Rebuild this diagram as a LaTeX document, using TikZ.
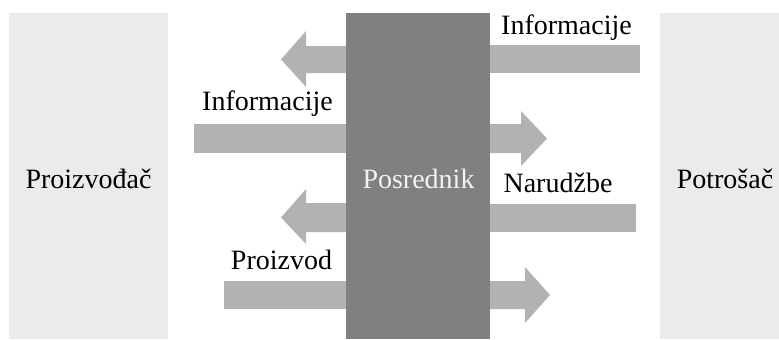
\documentclass[tikz,border=0pt]{standalone}
\usepackage{fontspec}
\setmainfont{Liberation Serif}
\definecolor{sidegray}{HTML}{EBEBEB}
\definecolor{midgray}{HTML}{808080}
\definecolor{arrgray}{HTML}{B2B2B2}
\definecolor{midtext}{HTML}{F2F2F2}
\begin{document}
\begin{tikzpicture}[x=0.5pt,y=-0.5pt,
  flow/.style={fill=arrgray,draw=none},
  lbl/.style={font=\fontsize{14pt}{16pt}\selectfont,anchor=base,inner sep=0pt}]
\useasboundingbox (0,0) rectangle (779,339);
% side boxes
\fill[sidegray] (9,13) rectangle (168,339);
\fill[sidegray] (660,13) rectangle (779,339);
% flows
\fill[flow] (346,46) -- (306,46) -- (306,31) -- (281,59.5) -- (306,87) -- (306,73) -- (346,73) -- cycle;
\fill[flow] (490,45) rectangle (640,73);
\fill[flow] (194,124) rectangle (346,153);
\fill[flow] (490,124) -- (521,124) -- (521,111) -- (547,138.5) -- (521,166) -- (521,153) -- (490,153) -- cycle;
\fill[flow] (346,203) -- (306,203) -- (306,189) -- (281,217.5) -- (306,244) -- (306,232) -- (346,232) -- cycle;
\fill[flow] (490,204) rectangle (636,232);
\fill[flow] (224,281) rectangle (346,309);
\fill[flow] (490,281) -- (525,281) -- (525,267) -- (550,295) -- (525,323) -- (525,309) -- (490,309) -- cycle;
% middle box
\fill[midgray] (346,13) rectangle (490,339);
% labels
\node[lbl] (prod) at (88.5,188) {Proizvođač};
\node[lbl] (cons) at (725,188) {Potrošač};
\node[lbl,text=midtext] (mid) at (418.5,188) {Posrednik};
\node[lbl] (inf1) at (566.5,34) {Informacije};
\node[lbl] (inf2) at (267.5,110) {Informacije};
\node[lbl] (nar) at (558,192) {Narudžbe};
\node[lbl] (pro) at (281.5,269) {Proizvod};
\end{tikzpicture}
\end{document}
